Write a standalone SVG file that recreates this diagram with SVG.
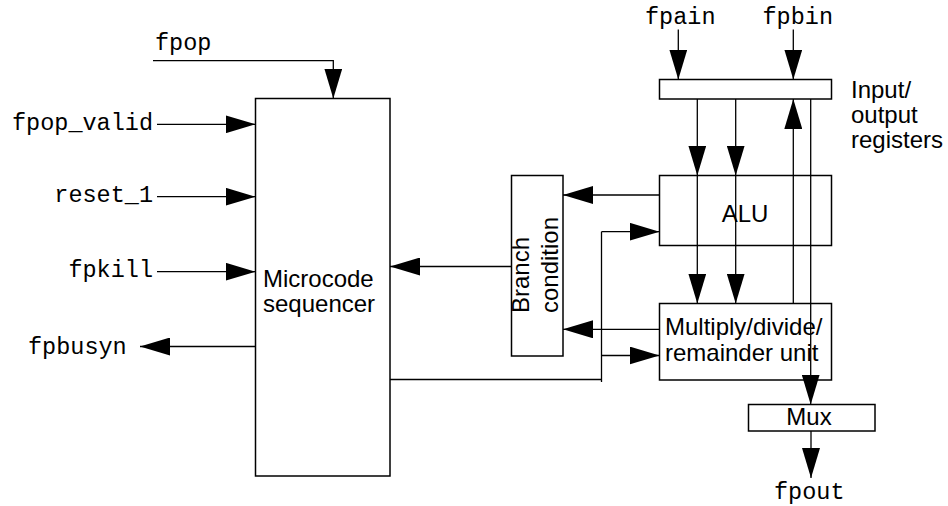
<svg xmlns="http://www.w3.org/2000/svg" width="948" height="506" viewBox="0 0 948 506">
<defs>
<marker id="ah" markerUnits="userSpaceOnUse" markerWidth="30" markerHeight="18" refX="30" refY="9" orient="auto" viewBox="0 0 30 18">
<path d="M0,0 L30,9 L0,18 z" fill="#000"/>
</marker>
<style>
.box{fill:#fff;stroke:#000;stroke-width:1.5}
.ln{fill:none;stroke:#000;stroke-width:1.3}
.ar{marker-end:url(#ah)}
.mono{font-family:"Liberation Mono","Courier New",monospace;font-size:23.5px;fill:#000}
.sans{font-family:"Liberation Sans",Arial,Helvetica,sans-serif;font-size:24px;fill:#000}
</style>
</defs>
<rect width="948" height="506" fill="#fff"/>

<g id="microcode-sequencer">
<rect class="box" x="255.5" y="98.5" width="134.5" height="377.5"/>
<text class="sans" x="263" y="287">Microcode<tspan x="263" y="312">sequencer</tspan></text>
</g>

<g id="branch-condition">
<rect class="box" x="511.5" y="175.5" width="51.5" height="180.5"/>
<text class="sans" transform="translate(529,313) rotate(-90)">Branch<tspan x="0" y="28.5">condition</tspan></text>
</g>

<g id="io-registers">
<rect class="box" x="659.5" y="79.5" width="172" height="19.5"/>
<text class="sans" x="851" y="98">Input/<tspan x="851" y="123">output</tspan><tspan x="851" y="148">registers</tspan></text>
</g>

<g id="alu">
<rect class="box" x="659.5" y="175.5" width="172" height="70"/>
<text class="sans" x="745" y="222" text-anchor="middle">ALU</text>
</g>

<g id="mdr-unit">
<rect class="box" x="659.5" y="303.5" width="172" height="76.5"/>
<text class="sans" x="665" y="335">Multiply/divide/<tspan x="665" y="360.5">remainder unit</tspan></text>
</g>

<g id="mux">
<rect class="box" x="748.5" y="404.5" width="126.5" height="26.5"/>
<text class="sans" x="809" y="425" text-anchor="middle">Mux</text>
</g>

<g id="labels">
<text class="mono" x="155" y="50">fpop</text>
<text class="mono" x="153" y="130" text-anchor="end">fpop_valid</text>
<text class="mono" x="153" y="202" text-anchor="end">reset_1</text>
<text class="mono" x="153" y="277" text-anchor="end">fpkill</text>
<text class="mono" x="28" y="354">fpbusyn</text>
<text class="mono" x="645" y="24">fpain</text>
<text class="mono" x="762.5" y="24">fpbin</text>
<text class="mono" x="774" y="499">fpout</text>
</g>

<g id="connectors">
<polyline class="ln ar" points="153,60.7 333.3,60.7 333.3,98.5"/>
<line class="ln ar" x1="157" y1="124.3" x2="255.5" y2="124.3"/>
<line class="ln ar" x1="157" y1="196.7" x2="255.5" y2="196.7"/>
<line class="ln ar" x1="157" y1="271.7" x2="255.5" y2="271.7"/>
<line class="ln ar" x1="255.5" y1="346.5" x2="140" y2="346.5"/>

<line class="ln ar" x1="678.3" y1="29.5" x2="678.3" y2="79.5"/>
<line class="ln ar" x1="793.3" y1="29.5" x2="793.3" y2="79.5"/>

<line class="ln ar" x1="697.3" y1="99" x2="697.3" y2="175.5"/>
<line class="ln ar" x1="697.3" y1="175.5" x2="697.3" y2="303.5"/>
<line class="ln ar" x1="735.7" y1="99" x2="735.7" y2="175.5"/>
<line class="ln ar" x1="735.7" y1="175.5" x2="735.7" y2="303.5"/>
<line class="ln ar" x1="793.3" y1="303.5" x2="793.3" y2="99"/>
<line class="ln ar" x1="810.7" y1="99" x2="810.7" y2="404.5"/>
<line class="ln ar" x1="811" y1="431" x2="811" y2="478"/>

<line class="ln ar" x1="659.5" y1="195" x2="563" y2="195"/>
<line class="ln ar" x1="659.5" y1="329.3" x2="563" y2="329.3"/>
<line class="ln ar" x1="511.5" y1="266.5" x2="390" y2="266.5"/>

<line class="ln" x1="390" y1="379.5" x2="601.5" y2="379.5"/>
<line class="ln" x1="601.5" y1="231.7" x2="601.5" y2="382"/>
<line class="ln ar" x1="601.5" y1="231.7" x2="659.5" y2="231.7"/>
<line class="ln ar" x1="601.5" y1="355.5" x2="659.5" y2="355.5"/>
</g>
</svg>
